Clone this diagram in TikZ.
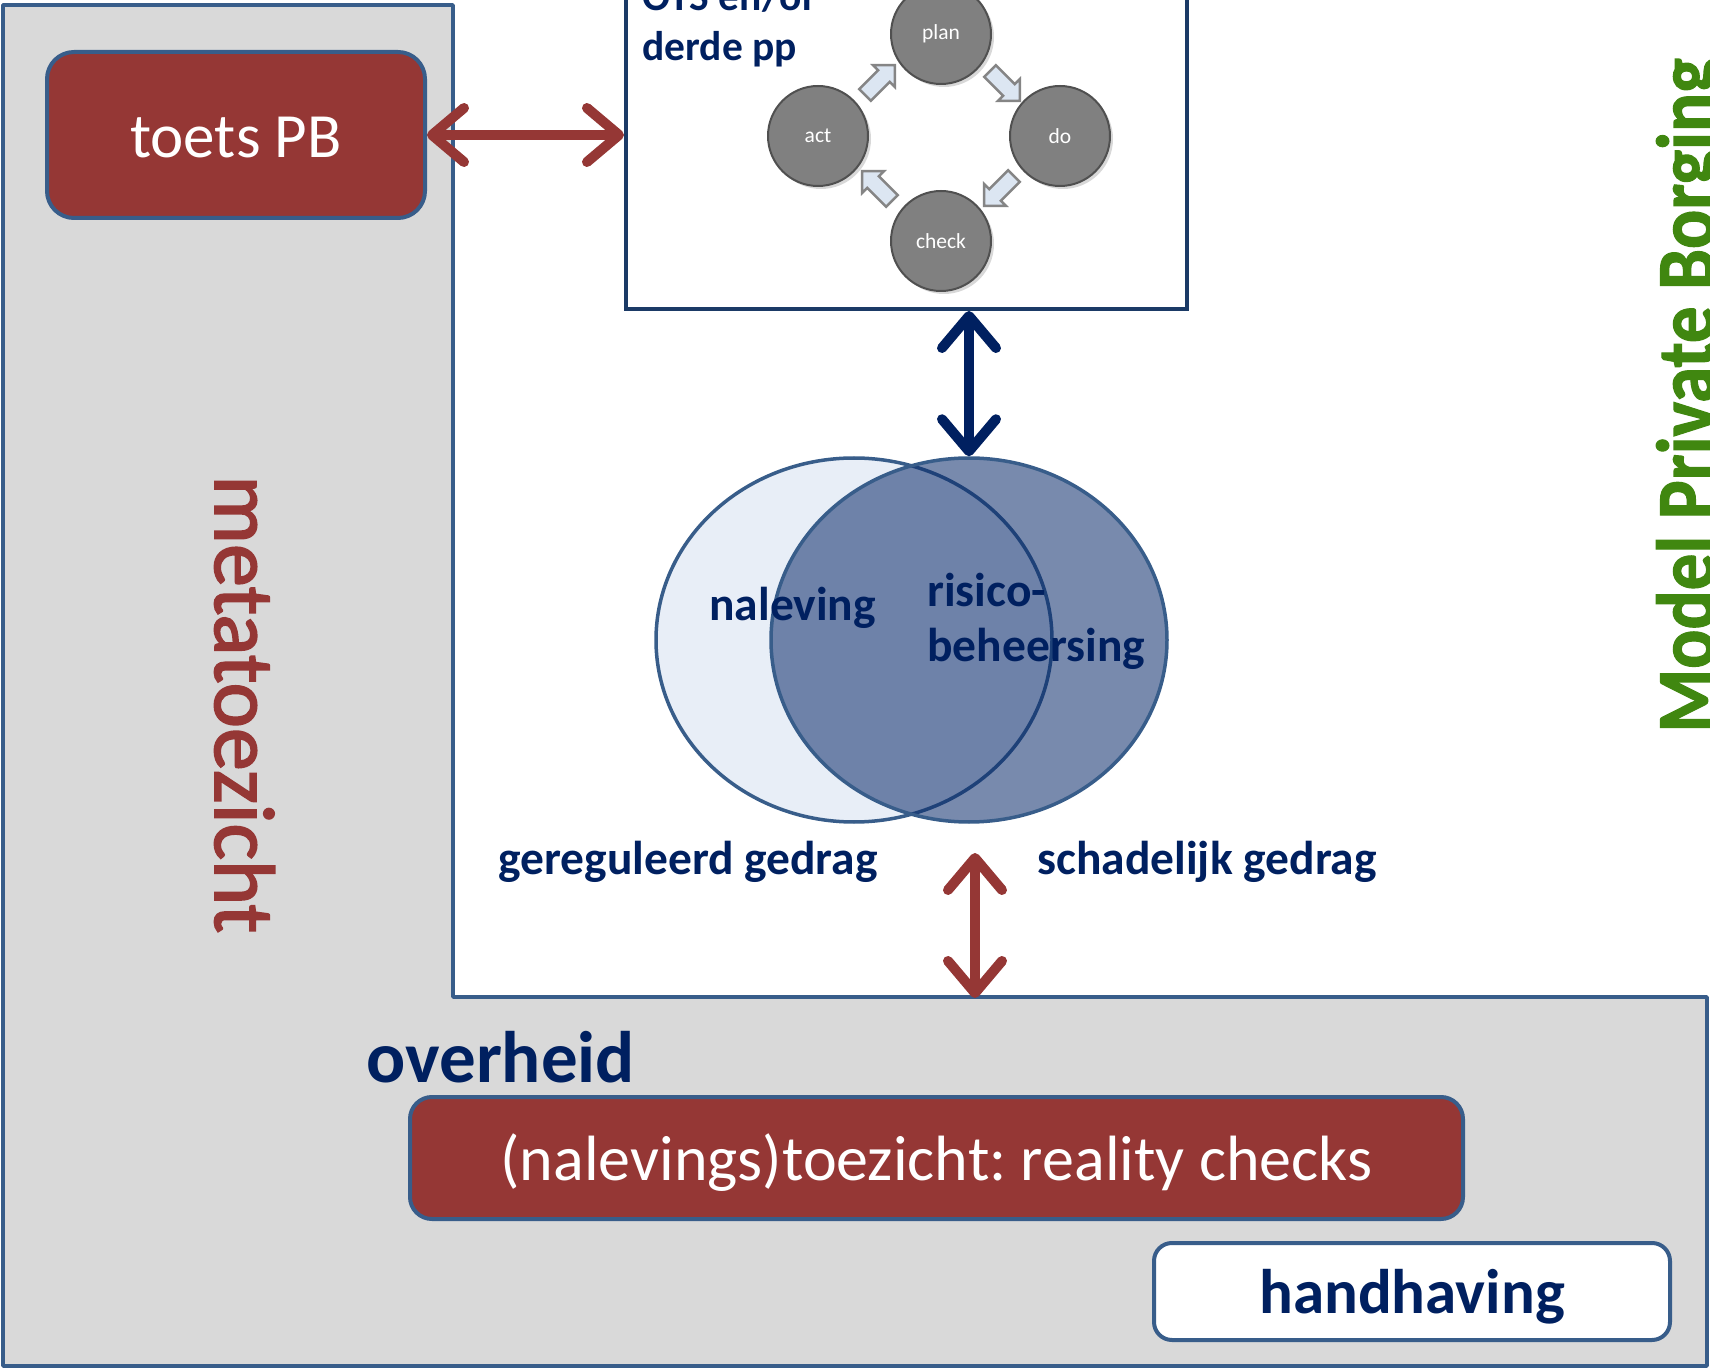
\documentclass[tikz,border=0pt]{standalone}
\usepackage{fontspec}
\setmainfont{Carlito}
\newfontfamily\metafont{Carlito}[FakeBold=2]
\newfontfamily\mpbfont{Carlito}[UprightFont=*-Bold, FakeBold=1.5]
\frenchspacing
\usetikzlibrary{arrows.meta,shapes.geometric,shapes.arrows,shadows}
\definecolor{grayfill}{HTML}{D9D9D9}
\definecolor{edgeblue}{HTML}{385D8A}
\definecolor{darkred}{HTML}{953735}
\definecolor{navy}{HTML}{002060}
\definecolor{otsedge}{HTML}{1B3A66}
\definecolor{vennlight}{HTML}{E8EEF7}
\definecolor{venndark}{RGB}{10,42,106}
\definecolor{pdcagray}{HTML}{808080}
\definecolor{pdcaedge}{HTML}{505050}
\definecolor{pdcaarrow}{HTML}{DCE6F2}
\definecolor{pdcaarrowedge}{HTML}{858585}
\definecolor{mpbgreen}{RGB}{64,135,16}
\begin{document}
\begin{tikzpicture}[x=0.5pt,y=-0.5pt,
  boxtext/.style={font=\fontsize{31.5}{38}\selectfont, text height=28.35pt, text depth=6.3pt, inner sep=0pt},
  redbox/.style={boxtext, draw=edgeblue, line width=2pt, fill=darkred, text=white},
  whitebox/.style={boxtext, draw=edgeblue, line width=2pt, fill=white, text=navy, font=\fontsize{31.5}{38}\selectfont\bfseries},
  venntext/.style={font=\fontsize{23.75}{28}\selectfont\bfseries, text=navy, inner sep=0pt, anchor=base west},
  otstext/.style={font=\fontsize{20.75}{25}\selectfont\bfseries, text=navy, inner sep=0pt, anchor=base west},
  pdca/.style={circle, minimum size=50pt, inner sep=0pt, fill=pdcagray, draw=pdcaedge, line width=1pt, text=white, font=\fontsize{10.75}{13}\selectfont, drop shadow={shadow xshift=1.5pt, shadow yshift=-1.5pt, opacity=0.3}},
  pdcaarr/.style={single arrow, minimum height=21pt, minimum width=14pt, inner sep=3.5pt, single arrow head extend=3.5pt, fill=pdcaarrow, draw=pdcaarrowedge, line width=1.25pt},
  venn/.style={ellipse, minimum width=198pt, minimum height=182pt, inner sep=0pt, line width=1.75pt, draw=edgeblue},
  barb/.tip={Straight Barb[length=16pt,width=27pt,round]},
  dblarrow/.style={line width=5pt, barb-barb},
]
\clip (0,0) rectangle (1710,1369);
% gray L-shaped area
\fill[grayfill] (3,5) -- (453,5) -- (453,997) -- (1707,997) -- (1707,1366) -- (3,1366) -- cycle;
\draw[edgeblue, line width=1.75pt, line join=round] (3,5) -- (453,5) -- (453,997) -- (1707,997) -- (1707,1366) -- (3,1366) -- cycle;

% OTS box
\node[draw=otsedge, line width=2pt, fill=white, minimum width=280.5pt, minimum height=159.5pt, inner sep=0pt] (ots) at (906.5,149.5) {};
\node[otstext] (ots1) at (642,11) {OTS en/of};
\node[otstext] (ots2) at (642,61) {derde pp};

% PDCA cycle
\node[pdca] (plan) at (941,34) {plan};
\node[pdca] (do) at (1060,136) {do};
\node[pdca] (check) at (941,241) {check};
\node[pdca] (act) at (818,136) {act};
\node[pdcaarr, rotate=45] (a1) at (877,83) {};
\node[pdcaarr, rotate=-45] (a2) at (1002,83) {};
\node[pdcaarr, rotate=-135] (a3) at (1002,188) {};
\node[pdcaarr, rotate=135] (a4) at (880,189) {};

% Venn
\node[venn, fill=vennlight] (L) at (854,640) {};
\node[venn, fill=venndark, fill opacity=0.55, draw opacity=1] (R) at (969,640) {};
\node[venntext] (nal) at (709,621) {naleving};
\node[venntext] (ris) at (927,607) {risico-};
\node[venntext] (beh) at (927,662) {beheersing};
\node[venntext] (ger) at (498,874) {gereguleerd gedrag};
\node[venntext] (sch) at (1037,874) {schadelijk gedrag};

% left column
\node[redbox, rounded corners=13.5pt, minimum width=189pt, minimum height=83pt] (toets) at (236,135) {toets PB};
\node[font=\metafont\fontsize{43}{50}\selectfont, text=darkred, rotate=-90, anchor=base west, inner sep=0pt] (meta) at (215,475) {metatoezicht};

% bottom strip
\node[font=\fontsize{36.5}{44}\selectfont\bfseries, text=navy, inner sep=0pt, anchor=base west] (overheid) at (366,1082) {overheid};
\node[redbox, font=\fontsize{32}{38}\selectfont, rounded corners=11pt, minimum width=526.5pt, minimum height=61pt] (toezicht) at (936.5,1158) {(nalevings)toezicht: reality checks};
\node[whitebox, rounded corners=9pt, minimum width=258pt, minimum height=48.5pt] (handh) at (1412,1291.5) {handhaving};

% right title
\node[font=\mpbfont\fontsize{36.5}{44}\selectfont, text=mpbgreen, rotate=90, yscale=1.13, anchor=base west, inner sep=0pt] (mpb) at (1714,733) {Model Private Borging};

% connectors
\draw[dblarrow, darkred] (toets.east) -- (toets.east -| ots.west);
\draw[dblarrow, navy] (R.north |- ots.south) -- (R.north);
\coordinate (rtop) at (975,853);
\coordinate (stripT) at (975,998);
\draw[dblarrow, darkred] (rtop) -- (stripT);
\end{tikzpicture}
\end{document}
